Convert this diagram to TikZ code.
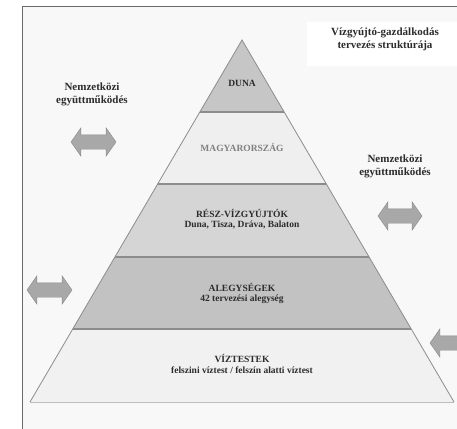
\documentclass[tikz,border=0pt]{standalone}
\usepackage{fontspec}
\setmainfont{Liberation Serif}
\usepackage{tikz}
\usetikzlibrary{shapes.arrows}
\definecolor{framegray}{HTML}{6A6A6A}
\definecolor{paper}{HTML}{F8F8F8}
\definecolor{edgegray}{HTML}{8C8C8C}
\definecolor{basegray}{HTML}{BDBDBD}
\definecolor{textgray}{HTML}{2B2B2B}
\definecolor{palegray}{HTML}{808080}
\definecolor{arrowfill}{HTML}{A8A8A8}
\definecolor{arrowline}{HTML}{8A8A8A}
\definecolor{dunafill}{HTML}{C6C6C6}
\definecolor{magyarfill}{HTML}{EFEFEF}
\definecolor{reszfill}{HTML}{D5D5D5}
\definecolor{alegyfill}{HTML}{C2C2C2}
\definecolor{vizfill}{HTML}{F1F1F1}
\tikzstyle{layertext} = [font=\bfseries\fontsize{9.5}{11}\selectfont, text=textgray, inner sep=0pt]
\tikzstyle{sidetext} = [font=\bfseries\fontsize{11}{13}\selectfont, text=textgray, align=center, inner sep=0pt]
\tikzstyle{dblarrow} = [double arrow, draw=arrowline, fill=arrowfill, inner xsep=0pt, inner ysep=7pt, minimum height=45pt, double arrow head extend=7pt, double arrow tip angle=110]

\begin{document}
\begin{tikzpicture}[x=1pt, y=-1pt, node distance=12pt]
		\clip (0,0) rectangle (457,428);
		\fill[white] (0,0) rectangle (457,428);
		\draw[framegray, line width=1.4pt, fill=paper] (22.5,6.5) rectangle (470,440);
		\fill[white] (307,22) rectangle (470,66);

		% pyramid bands
		\begin{scope}
			\clip (242,40) -- (30,402) -- (454,402) -- cycle;
			\foreach \ya/\yb/\col in {40/112/dunafill, 112/184/magyarfill, 184/257/reszfill, 257/329/alegyfill, 329/402/vizfill}
				\fill[\col] (0,\ya) rectangle (457,\yb);
			\foreach \yy in {112, 184, 257, 329}
				\draw[edgegray, line width=1.1pt] (0,\yy) -- (457,\yy);
		\end{scope}
		\draw[edgegray, line width=0.8pt] (30,402) -- (242,40) -- (454,402);
		\draw[basegray, line width=1.6pt] (30,402.5) -- (454,402.5);

		\node (title) [sidetext] at (385,39.5) {Vízgyújtó-gazdálkodás\\tervezés struktúrája};

		\node (duna) [layertext] at (242,83) {DUNA};
		\node (magyar) [layertext, text=palegray] at (242,147) {MAGYARORSZÁG};
		\node (resz) [layertext] at (242,213) {RÉSZ-VÍZGYÚJTÓK};
		\node (reszsub) [layertext, below of=resz] {Duna, Tisza, Dráva, Balaton};
		\node (alegy) [layertext] at (242,287) {ALEGYSÉGEK};
		\node (alegysub) [layertext, below of=alegy] {42 tervezési alegység};
		\node (viz) [layertext] at (242,358) {VÍZTESTEK};
		\node (vizsub) [layertext, below of=viz] {felszini víztest / felszín alatti víztest};

		\node (nemzl) [sidetext] at (92,94) {Nemzetközi\\együttműködés};
		\node (nemzr) [sidetext] at (395,166.5) {Nemzetközi\\együttműködés};

		\node (arrl1) [dblarrow] at (93.5,142) {};
		\node (arrr1) [dblarrow, minimum height=44pt] at (400,216) {};
		\node (arrl2) [dblarrow] at (49.5,290) {};
		\node (arrr2) [dblarrow] at (452.5,343) {};
	\end{tikzpicture}
\end{document}
